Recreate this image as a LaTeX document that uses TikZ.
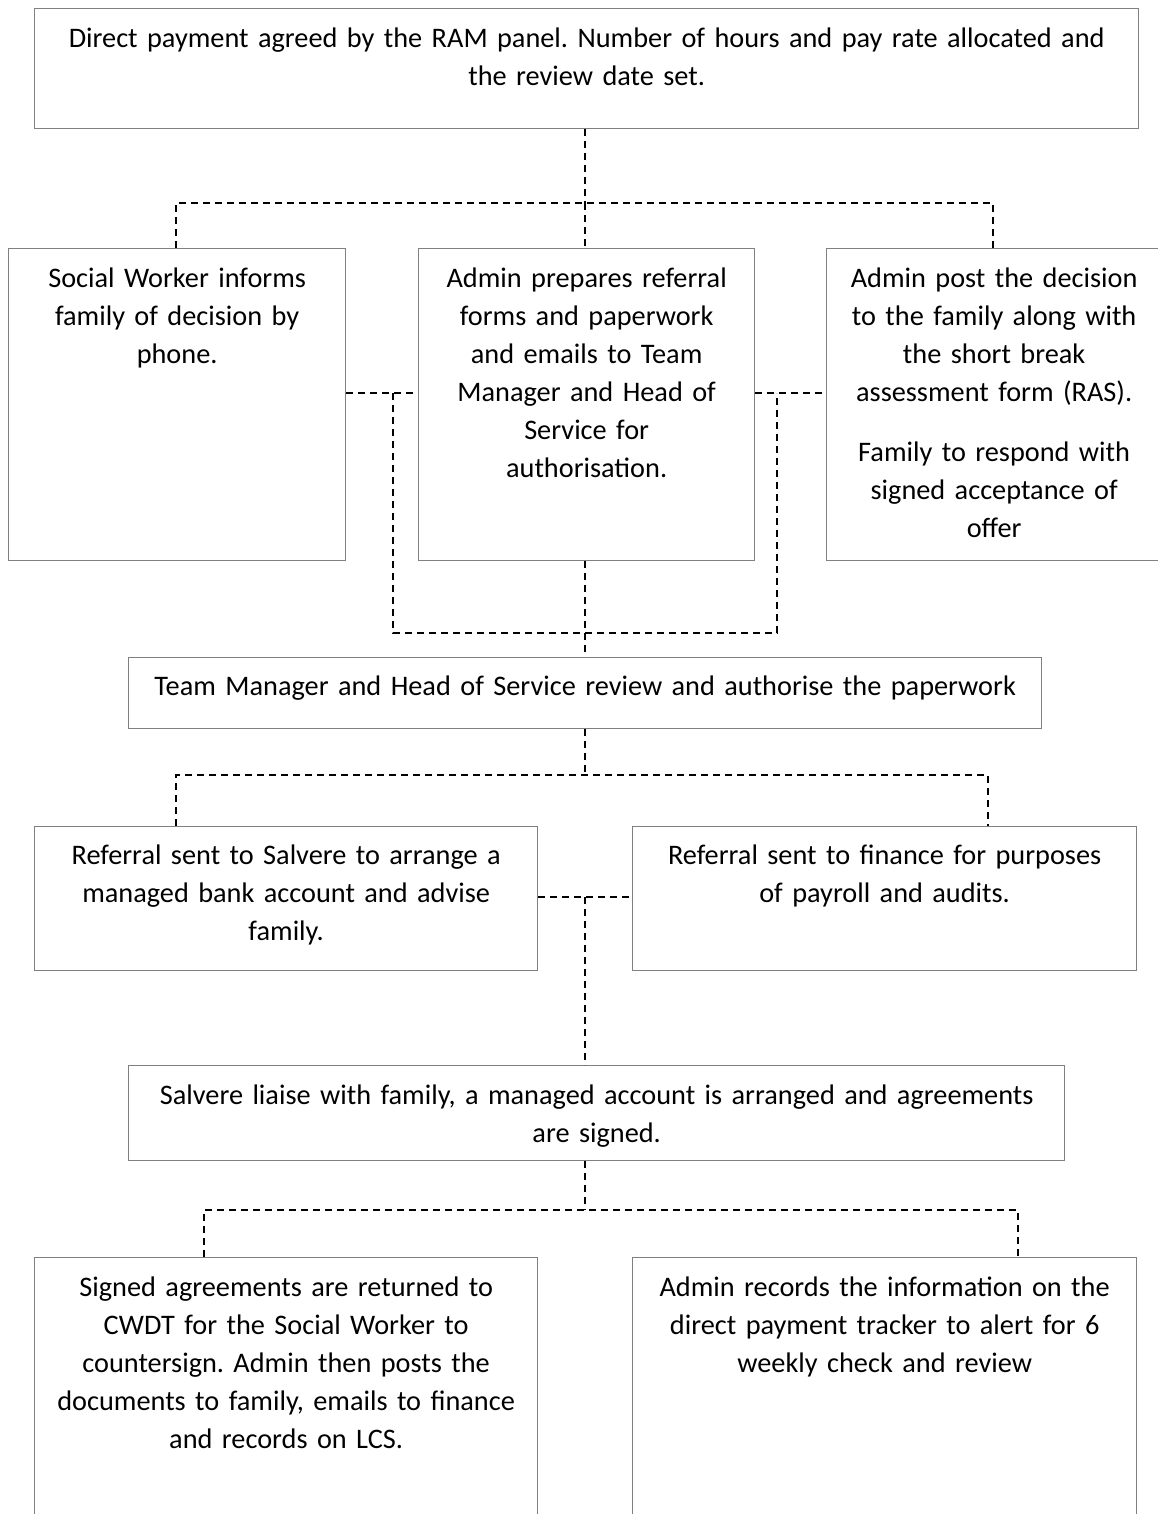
\documentclass[tikz,border=0pt]{standalone}
\usepackage{fontspec}
\setmainfont{Carlito}
\frenchspacing
\definecolor{boxgrey}{RGB}{128,128,128}
\tikzset{
  stepbox/.style={draw=boxgrey, line width=1.3pt, inner sep=0pt, anchor=north west,
    align=center, text height=39pt},
  link/.style={line width=2pt, dash pattern=on 7pt off 5pt}
}
\begin{document}
\begin{tikzpicture}[x=1pt,y=-1pt,font=\fontsize{28.3}{38}\selectfont]
    \useasboundingbox (0,0) rectangle (1157,1514);

    % --------------------------------------------------------- %
    % ------------- decision of the panel
    % --------------------------------------------------------- %
    \node[stepbox, text width=1104pt, text depth=81pt] (panel) at (34,8) {Direct payment agreed by the RAM panel. Number of hours and pay rate allocated and \\ the review date set.};

    % --------------------------------------------------------- %
    % ------------ first actions
    % --------------------------------------------------------- %
    % --- social worker node
    \node[stepbox, text width=337pt, text depth=273pt] (social) at (8,248) {Social Worker informs \\ family of decision by \\ phone.};
    % --- admin referral node
    \node[stepbox, text width=336pt, text depth=273pt] (referral) at (418,248) {Admin prepares referral \\ forms and paperwork \\ and emails to Team \\ Manager and Head of \\ Service for \\ authorisation.};
    % --- admin post node
    \node[stepbox, text width=335pt, text depth=273pt] (post) at (826,248) {Admin post the decision \\ to the family along with \\ the short break \\ assessment form (RAS). \\[22pt] Family to respond with \\ signed acceptance of \\ offer};

    \coordinate (split1) at (585,203);
    \coordinate (split1l) at (176,203);
    \coordinate (split1r) at (993,203);
    \draw[link] (panel.south -| split1) -- (split1);
    \draw[link] (split1l |- social.north) -- (split1l) -- (split1r) -- (split1r |- post.north);
    \draw[link] (split1) -- (split1 |- referral.north);

    % --- side links to authorisation
    \coordinate (sidel) at (393,393);
    \coordinate (sider) at (777,393);
    \coordinate (merge1) at (585,633);
    \draw[link] (social.east |- sidel) -- (referral.west |- sidel);
    \draw[link] (referral.east |- sider) -- (post.west |- sider);
    \draw[link] (sidel) |- (merge1) -| (sider);

    % --------------------------------------------------------- %
    % ------------ authorisation
    % --------------------------------------------------------- %
    \node[stepbox, text width=913pt, text height=38pt, text depth=33pt] (authorise) at (128,657) {Team Manager and Head of Service review and authorise the paperwork};
    \draw[link] (referral.south -| merge1) -- (authorise.north -| merge1);

    % --- salvere node
    \node[stepbox, text width=503pt, text height=38pt, text depth=106pt] (salvere) at (34,826) {Referral sent to Salvere to arrange a \\ managed bank account and advise \\ family.};
    % --- finance node
    \node[stepbox, text width=504pt, text height=38pt, text depth=106pt] (finance) at (632,826) {Referral sent to finance for purposes \\ of payroll and audits.};

    \coordinate (split2) at (585,775);
    \coordinate (split2l) at (176,775);
    \coordinate (split2r) at (988,775);
    \draw[link] (authorise.south -| split2) -- (split2);
    \draw[link] (split2l |- salvere.north) -- (split2l) -- (split2r) -- (split2r |- finance.north);

    % --------------------------------------------------------- %
    % ------------ managed account
    % --------------------------------------------------------- %
    \node[stepbox, text width=936pt, text depth=56pt] (account) at (128,1065) {Salvere liaise with family, a managed account is arranged and agreements \\ are signed.};

    \coordinate (merge2) at (585,897);
    \draw[link] (salvere.east |- merge2) -- (finance.west |- merge2);
    \draw[link] (merge2) -- (merge2 |- account.north);

    % --- countersign node
    \node[stepbox, text width=503pt, text depth=261pt] (countersign) at (34,1257) {Signed agreements are returned to \\ CWDT for the Social Worker to \\ countersign. Admin then posts the \\ documents to family, emails to finance \\ and records on LCS.};
    % --- tracker node
    \node[stepbox, text width=504pt, text depth=261pt] (tracker) at (632,1257) {Admin records the information on the \\ direct payment tracker to alert for 6 \\ weekly check and review};

    \coordinate (split3) at (585,1210);
    \coordinate (split3l) at (204,1210);
    \coordinate (split3r) at (1018,1210);
    \draw[link] (account.south -| split3) -- (split3);
    \draw[link] (split3l |- countersign.north) -- (split3l) -- (split3r) -- (split3r |- tracker.north);

\end{tikzpicture}
\end{document}
